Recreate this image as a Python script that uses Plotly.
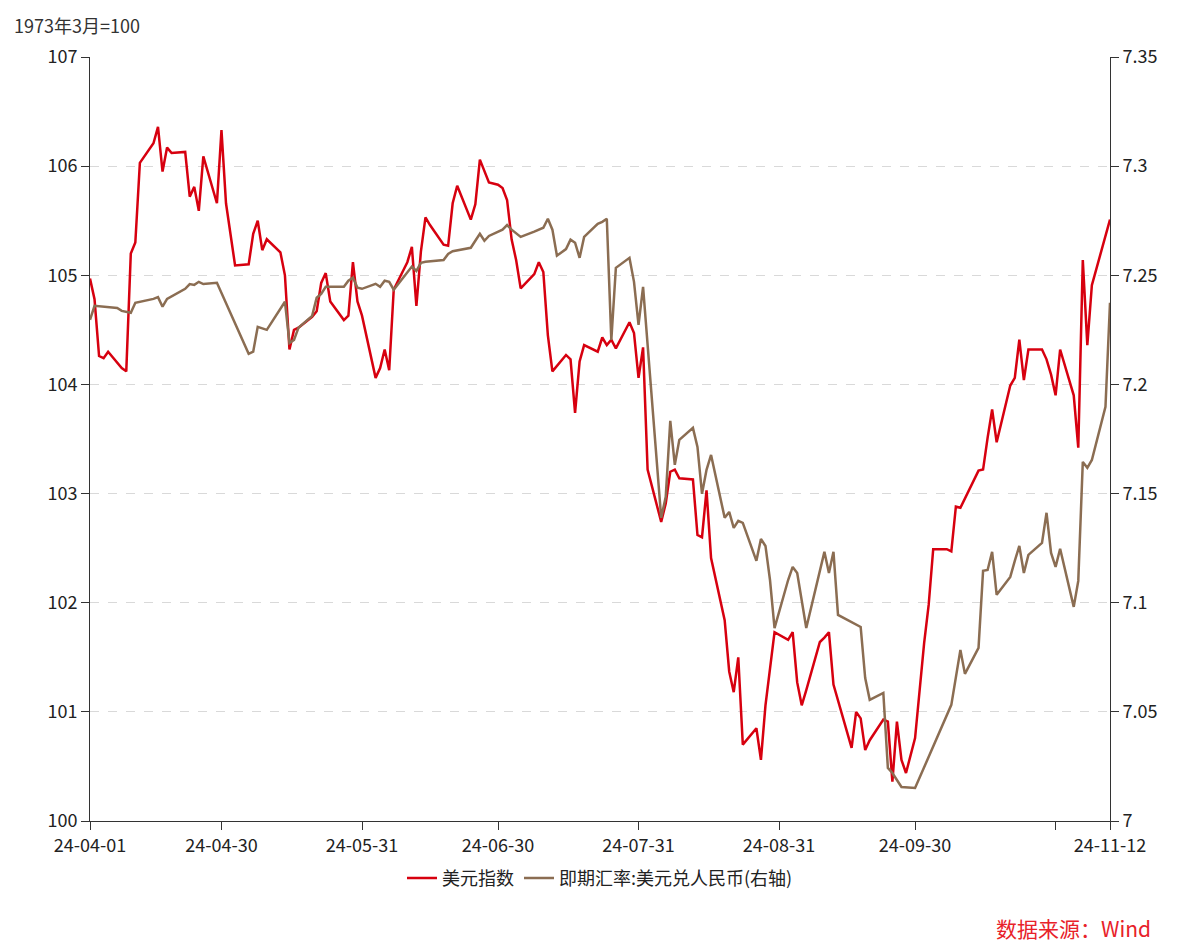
import plotly.graph_objects as go

dxy_dates = ["2024-04-01","2024-04-02","2024-04-03","2024-04-04","2024-04-05","2024-04-08","2024-04-09","2024-04-10","2024-04-11","2024-04-12",
"2024-04-15","2024-04-16","2024-04-17","2024-04-18","2024-04-19","2024-04-22","2024-04-23","2024-04-24","2024-04-25","2024-04-26",
"2024-04-29","2024-04-30","2024-05-01","2024-05-03","2024-05-06","2024-05-07","2024-05-08","2024-05-09","2024-05-10",
"2024-05-13","2024-05-14","2024-05-15","2024-05-16","2024-05-17","2024-05-20","2024-05-21","2024-05-22","2024-05-23","2024-05-24",
"2024-05-27","2024-05-28","2024-05-29","2024-05-30","2024-05-31","2024-06-03","2024-06-04","2024-06-05","2024-06-06","2024-06-07",
"2024-06-10","2024-06-11","2024-06-12","2024-06-13","2024-06-14","2024-06-15","2024-06-18","2024-06-19","2024-06-20","2024-06-21",
"2024-06-24","2024-06-25","2024-06-26","2024-06-28","2024-06-30","2024-07-01","2024-07-02","2024-07-03","2024-07-04","2024-07-05",
"2024-07-07","2024-07-08","2024-07-09","2024-07-10","2024-07-11","2024-07-12","2024-07-15","2024-07-16","2024-07-17","2024-07-18","2024-07-19",
"2024-07-22","2024-07-23","2024-07-24","2024-07-25","2024-07-26","2024-07-29","2024-07-30","2024-07-31","2024-08-01","2024-08-02",
"2024-08-05","2024-08-06","2024-08-07","2024-08-08","2024-08-09","2024-08-12","2024-08-13","2024-08-14","2024-08-15","2024-08-16",
"2024-08-19","2024-08-20","2024-08-21","2024-08-22","2024-08-23","2024-08-26","2024-08-27","2024-08-28","2024-08-30",
"2024-09-02","2024-09-03","2024-09-04","2024-09-05","2024-09-06","2024-09-09","2024-09-10","2024-09-11","2024-09-12",
"2024-09-16","2024-09-17","2024-09-18","2024-09-19","2024-09-20","2024-09-23","2024-09-24","2024-09-25","2024-09-26","2024-09-27","2024-09-28",
"2024-09-30","2024-10-01","2024-10-02","2024-10-03","2024-10-04","2024-10-07","2024-10-08","2024-10-09","2024-10-10",
"2024-10-14","2024-10-15","2024-10-16","2024-10-17","2024-10-18","2024-10-21","2024-10-22","2024-10-23","2024-10-24","2024-10-25",
"2024-10-28","2024-10-29","2024-10-30","2024-10-31","2024-11-01","2024-11-04","2024-11-05","2024-11-06","2024-11-07","2024-11-08","2024-11-12"]
dxy_values = [104.97,104.78,104.26,104.24,104.30,104.15,104.12,105.20,105.30,106.03,
106.21,106.36,105.95,106.17,106.12,106.13,105.72,105.81,105.59,106.09,
105.66,106.33,105.66,105.09,105.10,105.38,105.50,105.23,105.33,
105.21,105.00,104.32,104.50,104.52,104.62,104.67,104.93,105.02,104.76,
104.59,104.63,105.12,104.76,104.63,104.06,104.15,104.32,104.13,104.87,
105.12,105.26,104.72,105.22,105.53,105.46,105.28,105.27,105.66,105.82,
105.51,105.65,106.06,105.85,105.83,105.80,105.69,105.33,105.14,104.88,
104.97,105.01,105.12,105.03,104.45,104.12,104.27,104.23,103.74,104.21,104.36,
104.30,104.43,104.36,104.41,104.33,104.57,104.47,104.06,104.34,103.22,
102.74,102.91,103.20,103.22,103.14,103.13,102.62,102.60,103.03,102.41,
101.84,101.37,101.18,101.50,100.70,100.85,100.56,101.06,101.73,
101.66,101.73,101.27,101.06,101.20,101.64,101.68,101.73,101.25,
100.67,101.00,100.94,100.65,100.74,100.93,100.91,100.36,100.91,100.56,100.44,
100.76,101.22,101.63,101.98,102.49,102.49,102.47,102.88,102.87,
103.21,103.22,103.51,103.77,103.47,103.99,104.06,104.41,104.04,104.32,
104.32,104.23,104.09,103.90,104.32,103.90,103.42,105.14,104.36,104.91,105.51]

cny_dates = ["2024-04-01","2024-04-02","2024-04-07","2024-04-08","2024-04-10","2024-04-11","2024-04-15","2024-04-16","2024-04-17","2024-04-18",
"2024-04-22","2024-04-23","2024-04-24","2024-04-25","2024-04-26","2024-04-29","2024-05-06","2024-05-07","2024-05-08","2024-05-10",
"2024-05-14","2024-05-15","2024-05-16","2024-05-17","2024-05-20","2024-05-21","2024-05-22","2024-05-23","2024-05-27","2024-05-28",
"2024-05-29","2024-05-30","2024-05-31","2024-06-03","2024-06-04","2024-06-05","2024-06-06","2024-06-07","2024-06-11","2024-06-12",
"2024-06-13","2024-06-14","2024-06-18","2024-06-19","2024-06-20","2024-06-24","2024-06-25","2024-06-26","2024-06-27","2024-06-28",
"2024-07-01","2024-07-02","2024-07-03","2024-07-05","2024-07-08","2024-07-09","2024-07-10","2024-07-11","2024-07-12","2024-07-13",
"2024-07-15","2024-07-16","2024-07-17","2024-07-18","2024-07-19","2024-07-22","2024-07-23","2024-07-24","2024-07-25","2024-07-26",
"2024-07-29","2024-07-30","2024-07-31","2024-08-01","2024-08-05","2024-08-06","2024-08-07","2024-08-08","2024-08-09","2024-08-12",
"2024-08-13","2024-08-14","2024-08-15","2024-08-16","2024-08-19","2024-08-20","2024-08-21","2024-08-22","2024-08-23","2024-08-26",
"2024-08-27","2024-08-28","2024-08-29","2024-08-30","2024-09-02","2024-09-03","2024-09-04","2024-09-06","2024-09-10","2024-09-11",
"2024-09-12","2024-09-13","2024-09-18","2024-09-19","2024-09-20","2024-09-23","2024-09-24","2024-09-25","2024-09-27","2024-09-30",
"2024-10-08","2024-10-10","2024-10-11","2024-10-14","2024-10-15","2024-10-16","2024-10-17","2024-10-18","2024-10-21","2024-10-22",
"2024-10-23","2024-10-24","2024-10-25","2024-10-28","2024-10-29","2024-10-30","2024-10-31","2024-11-01","2024-11-04","2024-11-05",
"2024-11-06","2024-11-07","2024-11-08","2024-11-11","2024-11-12"]
cny_values = [7.2296,7.2360,7.2350,7.2337,7.2328,7.2374,7.2392,7.2400,7.2356,7.2392,
7.2438,7.2460,7.2456,7.2470,7.2460,7.2466,7.2140,7.2150,7.2264,7.2250,
7.2379,7.2190,7.2204,7.2260,7.2314,7.2397,7.2415,7.2447,7.2447,7.2475,
7.2489,7.2443,7.2438,7.2461,7.2447,7.2475,7.2470,7.2434,7.2540,7.2520,
7.2557,7.2562,7.2570,7.2598,7.2610,7.2626,7.2658,7.2690,7.2658,7.2680,
7.2709,7.2730,7.2709,7.2676,7.2700,7.2709,7.2718,7.2759,7.2709,7.2590,
7.2620,7.2663,7.2649,7.2580,7.2676,7.2736,7.2745,7.2759,7.2204,7.2534,
7.2580,7.2470,7.2273,7.2447,7.1389,7.1485,7.1833,7.1632,7.1746,7.1801,
7.1714,7.1499,7.1609,7.1677,7.1389,7.1416,7.1343,7.1375,7.1366,7.1192,
7.1292,7.1260,7.1104,7.0884,7.1104,7.1164,7.1136,7.0884,7.1233,7.1136,
7.1233,7.0944,7.0889,7.0655,7.0555,7.0587,7.0243,7.0220,7.0156,7.0151,
7.0532,7.0784,7.0674,7.0793,7.1146,7.1150,7.1233,7.1036,7.1118,7.1192,
7.1260,7.1136,7.1219,7.1274,7.1412,7.1228,7.1164,7.1247,7.0981,7.1100,
7.1645,7.1618,7.1654,7.1897,7.2374]

x_tickvals = ["2024-04-01","2024-04-30","2024-05-31","2024-06-30","2024-07-31","2024-08-31","2024-09-30","2024-10-31","2024-11-12"]
x_ticktext = ["24-04-01","24-04-30","24-05-31","24-06-30","24-07-31","24-08-31","24-09-30","","24-11-12"]
left_ticks = [100,101,102,103,104,105,106,107]
right_ticks = [7.0,7.05,7.1,7.15,7.2,7.25,7.3,7.35]
right_text = ["7","7.05","7.1","7.15","7.2","7.25","7.3","7.35"]

FONT = "Noto Sans CJK SC, Noto Sans, sans-serif"
fig = go.Figure()
fig.add_trace(go.Scatter(x=dxy_dates, y=dxy_values, mode="lines", name="美元指数",
                         line=dict(color="#d7000f", width=2.5)))
fig.add_trace(go.Scatter(x=cny_dates, y=cny_values, mode="lines", name="即期汇率:美元兑人民币(右轴)",
                         line=dict(color="#8b6d52", width=2.5), yaxis="y2"))
fig.update_layout(
    width=1185, height=942, plot_bgcolor="white", paper_bgcolor="white",
    margin=dict(l=82, r=83, t=49, b=129),
    font=dict(family=FONT, size=18, color="#222"),
    xaxis=dict(type="date", range=["2024-04-01","2024-11-12"], tickvals=x_tickvals, ticktext=x_ticktext,
               showline=True, linecolor="#333", linewidth=1, ticks="outside", ticklen=8, tickcolor="#333",
               showgrid=False, zeroline=False),
    yaxis=dict(range=[100,107], tickvals=left_ticks, showline=True, linecolor="#333", ticks="outside",
               ticklen=8, tickcolor="#333", showgrid=True, gridcolor="#d9d9d9", griddash="dash", zeroline=False),
    yaxis2=dict(range=[7.0,7.35], tickvals=right_ticks, ticktext=right_text, overlaying="y", side="right",
                showline=True, linecolor="#333", ticks="outside", ticklen=8, tickcolor="#333",
                showgrid=False, zeroline=False),
    legend=dict(orientation="h", x=0.5, xanchor="center", y=-0.075, yanchor="middle", font=dict(size=18)),
    annotations=[
        dict(text="1973年3月=100", xref="paper", yref="paper", x=-0.0765, y=1.042, xanchor="left",
             yanchor="middle", showarrow=False, font=dict(size=18, color="#333")),
        dict(text="数据来源：Wind", xref="paper", yref="paper", x=1.042, y=-0.14, xanchor="right",
             yanchor="middle", showarrow=False, font=dict(size=21, color="#e8222a")),
    ],
)
fig.write_html("out.html")
